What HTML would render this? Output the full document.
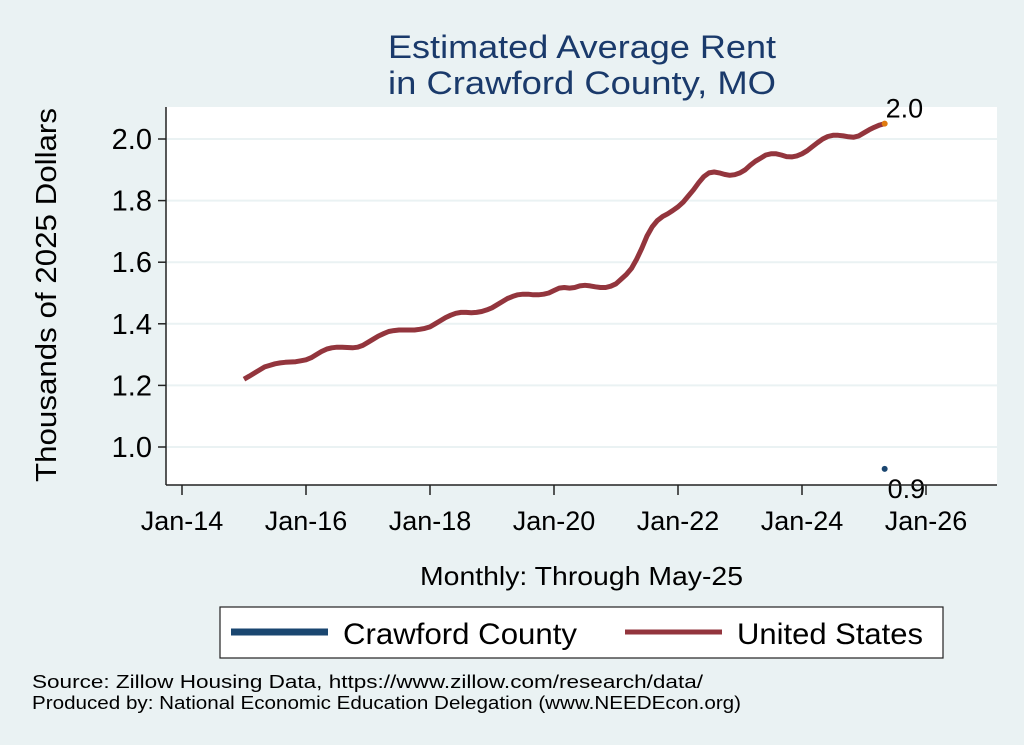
<!DOCTYPE html>
<html><head><meta charset="utf-8"><style>
body{margin:0;background:#eaf2f3;}
svg{display:block;font-family:"Liberation Sans",Arial,sans-serif;}
</style></head><body>
<svg width="1024" height="745" viewBox="0 0 1024 745">
<rect x="0" y="0" width="1024" height="745" fill="#eaf2f3"/>
<text x="388" y="58" textLength="388" lengthAdjust="spacingAndGlyphs" font-size="32" fill="#1a3a6b">Estimated Average Rent</text>
<text x="388" y="94" textLength="388" lengthAdjust="spacingAndGlyphs" font-size="32" fill="#1a3a6b">in Crawford County, MO</text>
<rect x="166" y="107" width="831" height="378" fill="#fff"/>
<g id="grid"></g><g id="yaxis"></g><g id="xaxis"></g><g id="series"></g>
<line x1="166" y1="107" x2="166" y2="485" stroke="#222" stroke-width="1.5"/>
<line x1="166" y1="485" x2="997" y2="485" stroke="#222" stroke-width="1.5"/>
<text transform="translate(56,295) rotate(-90)" x="-187" y="0" textLength="374" lengthAdjust="spacingAndGlyphs" font-size="29" fill="#000">Thousands of 2025 Dollars</text>
<text x="420" y="585" textLength="323" lengthAdjust="spacingAndGlyphs" font-size="26" fill="#000">Monthly: Through May-25</text>
<g>
<rect x="220" y="607" width="723" height="51" fill="#fff" stroke="#222" stroke-width="1.2"/>
<line x1="231" y1="632" x2="328" y2="632" stroke="#1a4670" stroke-width="7"/>
<text x="343" y="644" textLength="234" lengthAdjust="spacingAndGlyphs" font-size="30" fill="#000">Crawford County</text>
<line x1="625" y1="632" x2="722" y2="632" stroke="#93353d" stroke-width="5"/>
<text x="737" y="644" textLength="186" lengthAdjust="spacingAndGlyphs" font-size="30" fill="#000">United States</text>
</g>
<text x="32" y="688" textLength="671" lengthAdjust="spacingAndGlyphs" font-size="18" fill="#000">Source: Zillow Housing Data, https://www.zillow.com/research/data/</text>
<text x="32" y="709" textLength="709" lengthAdjust="spacingAndGlyphs" font-size="18" fill="#000">Produced by: National Economic Education Delegation (www.NEEDEcon.org)</text>
</svg>
<script>
const yTicks=[1.0,1.2,1.4,1.6,1.8,2.0];
const xTickYears=[2014,2016,2018,2020,2022,2024,2026];
const xTickLabels=["Jan-14","Jan-16","Jan-18","Jan-20","Jan-22","Jan-24","Jan-26"];
const usStartYear=2015;
const usValues=[
1.22,1.23,1.24,1.25,1.26,1.265,1.27,1.273,1.275,1.276,1.277,1.28,
1.283,1.29,1.30,1.31,1.318,1.322,1.324,1.324,1.323,1.322,1.324,1.33,
1.34,1.35,1.36,1.368,1.375,1.378,1.38,1.38,1.38,1.38,1.382,1.385,
1.39,1.40,1.41,1.42,1.428,1.434,1.437,1.437,1.436,1.437,1.44,1.445,
1.452,1.462,1.472,1.482,1.489,1.494,1.496,1.496,1.494,1.494,1.496,1.50,
1.508,1.516,1.518,1.516,1.518,1.523,1.525,1.523,1.52,1.518,1.518,1.522,
1.53,1.545,1.56,1.58,1.61,1.645,1.685,1.715,1.735,1.748,1.757,1.768,
1.78,1.795,1.815,1.835,1.858,1.878,1.89,1.893,1.89,1.885,1.882,1.884,
1.89,1.90,1.915,1.928,1.938,1.948,1.952,1.952,1.948,1.943,1.942,1.945,
1.952,1.962,1.975,1.988,2.0,2.008,2.012,2.012,2.01,2.007,2.006,2.01,
2.02,2.03,2.038,2.045,2.05];
const crawfordValue=[0.929];
const usLabel=["2.0"];
const crawfordLabel=["0.9"];
const NS="http://www.w3.org/2000/svg";
function X(t){return 182+(t-2014)*62;}
function Y(v){return 447-(v-1.0)*308;}
function mk(tag,attrs,parent){const e=document.createElementNS(NS,tag);for(const k in attrs)e.setAttribute(k,attrs[k]);document.getElementById(parent).appendChild(e);return e;}
yTicks.forEach(v=>{
 const g=mk('line',{x1:166,x2:997,y1:Y(v),y2:Y(v),stroke:'#eaf2f3','stroke-width':2},'grid');
 
 
 const t=mk('line',{x1:158,x2:166,y1:Y(v),y2:Y(v),stroke:'#222','stroke-width':1.5},'yaxis');
 
 
 const l=mk('text',{x:152,y:Y(v)+10,'text-anchor':'end','font-size':29,fill:'#000'},'yaxis');
 l.textContent=v.toFixed(1);
 
 
});
xTickYears.forEach((yr,i)=>{
 const t=mk('line',{x1:X(yr),x2:X(yr),y1:485,y2:495,stroke:'#222','stroke-width':1.5},'xaxis');
 
 
 const l=mk('text',{x:X(yr),y:530,'text-anchor':'middle','font-size':27,fill:'#000'},'xaxis');
 l.textContent=xTickLabels[i];
 
 
});
const pts=usValues.map((v,i)=>X(usStartYear+i/12).toFixed(1)+','+Y(v).toFixed(1));
const line=mk('polyline',{points:pts.join(' '),fill:'none',stroke:'#93353d','stroke-width':5,'stroke-linejoin':'round'},'series');


const lastI=usValues.length-1, lastT=usStartYear+lastI/12;
const ed=mk('circle',{cx:X(lastT),cy:Y(usValues[lastI]),r:3,fill:'#e07a10'},'series');


const ul=mk('text',{x:X(lastT)+1,y:Y(usValues[lastI])-6,'font-size':27,fill:'#000'},'series');
ul.textContent=usLabel[0];


const cp=mk('circle',{cx:X(lastT),cy:Y(crawfordValue[0]),r:3,fill:'#1a4670'},'series');


const cl=mk('text',{x:X(lastT)+3,y:Y(crawfordValue[0])+29,'font-size':27,fill:'#000'},'series');
cl.textContent=crawfordLabel[0];


</script>
</body></html>
